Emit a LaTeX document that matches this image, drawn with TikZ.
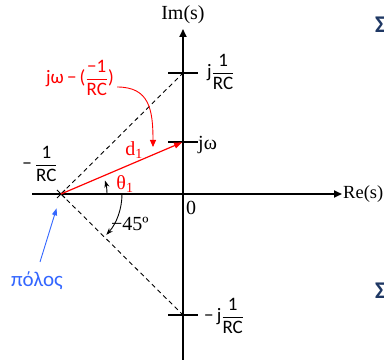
\documentclass[tikz,border=0pt]{standalone}
\usepackage{amsmath}
\usepackage{fontspec}
\setmainfont{Liberation Serif}
\newfontfamily\calib{Carlito}
\usetikzlibrary{arrows.meta,shapes.misc}
\definecolor{poleBlue}{RGB}{51,102,255}
\definecolor{slideNavy}{RGB}{31,56,100}
\newcommand\rcfrac[1]{$\dfrac{\text{\calib #1}}{\text{\calib RC}}$}

\begin{document}
\begin{tikzpicture}[x=1pt,y=-1pt,
    axis/.style={draw=black,line width=1.8pt,-{Triangle[length=8pt,width=7pt]}},
    tick/.style={draw=black,line width=1.1pt},
    guide/.style={draw=black,line width=0.9pt,dash pattern=on 4.5pt off 3.5pt},
    phasor/.style={draw=red,line width=1.2pt,-{Triangle[length=8pt,width=6pt]}},
    anglearrow/.style={draw=black,line width=0.9pt,-{Stealth[length=7pt,width=5pt]}},
    serif/.style={font=\fontsize{20}{22}\selectfont,inner sep=0pt},
    sans/.style={font=\calib\fontsize{19}{21}\selectfont,inner sep=0pt}
  ]
  \useasboundingbox (0,0) rectangle (384,361);

  % axes of the s-plane
  \coordinate (reL) at (32,194);
  \coordinate (reR) at (342,194);
  \coordinate (imB) at (183,360);
  \coordinate (imT) at (183,29);
  \draw[axis] (reL) -- (reR);
  \draw[axis] (imB) -- (imT);
  \node[serif,font=\fontsize{18.5}{20}\selectfont,anchor=east] (relabel) at (383.5,194) {Re(s)};
  \node[serif] (imlabel) at (183,15) {Im(s)};
  \node[serif] (zero) at (191,208) {0};

  % marks on the imaginary axis
  \coordinate (wc) at (183,73);
  \coordinate (jw) at (183,142);
  \coordinate (mwc) at (183,315);
  \draw[tick] ([xshift=-15pt]wc) -- ([xshift=15pt]wc);
  \draw[tick] ([xshift=-15pt]jw) -- ([xshift=15pt]jw);
  \draw[tick] ([xshift=-15pt]mwc) -- ([xshift=15pt]mwc);
  \node[sans,anchor=west] (wclabel) at (207,72) {j\rcfrac{1}};
  \node[serif,anchor=west] (jwlabel) at (198,145) {jω};
  \node[sans,anchor=west] (mwclabel) at (204,316) {−\,j\rcfrac{1}};

  % pole and its vectors
  \node[cross out,draw,line width=1pt,minimum size=7pt,inner sep=0pt] (pole) at (61,194) {};
  \node[sans] (polevalue) at (40,164) {−\,\rcfrac{1}};
  \draw[guide] (pole.center) -- (wc);
  \draw[guide] (pole.center) -- (mwc);
  \draw[phasor,shorten >=1pt] (pole.center) -- (jw);
  \node[serif,text=red] (d1) at (134,150) {d\textsubscript{1}};
  \node[serif,text=red] (theta) at (125,184) {θ\textsubscript{1}};
  \draw[anglearrow] ([xshift=46pt]pole.center) arc[start angle=0,end angle=-17,radius=46];
  \draw[anglearrow] ([xshift=61pt]pole.center) arc[start angle=0,end angle=42,radius=61];
  \node[serif,anchor=west] (angle) at (111,224) {−45º};

  % difference vector label
  \node[sans,text=red] (difflabel) at (80,78) {jω\,−\,(\rcfrac{−1})};
  \coordinate (d1mark) at (153,147);
  \draw[red,line width=0.9pt,-{Triangle[length=7pt,width=6pt]}]
    ([xshift=3pt,yshift=-9pt]difflabel.east) .. controls +(32,0) and +(0,-38) .. (d1mark);

  % pole name
  \node[font=\calib\fontsize{21}{23}\selectfont,text=poleBlue,inner sep=0pt] (polename) at (37,281) {πόλος};
  \coordinate (poletail) at (40,262);
  \draw[poleBlue,line width=0.9pt,-{Triangle[length=7pt,width=5pt]},shorten >=15pt] (poletail) -- (pole.center);

  % slide text cut at the edge
  \node[font=\calib\bfseries\fontsize{24}{26}\selectfont,text=slideNavy,anchor=west,inner sep=0pt] (sigmatop) at (375,25) {Σ};
  \node[font=\calib\bfseries\fontsize{24}{26}\selectfont,text=slideNavy,anchor=west,inner sep=0pt] (sigmabot) at (375,291) {Σ};
\end{tikzpicture}
\end{document}
